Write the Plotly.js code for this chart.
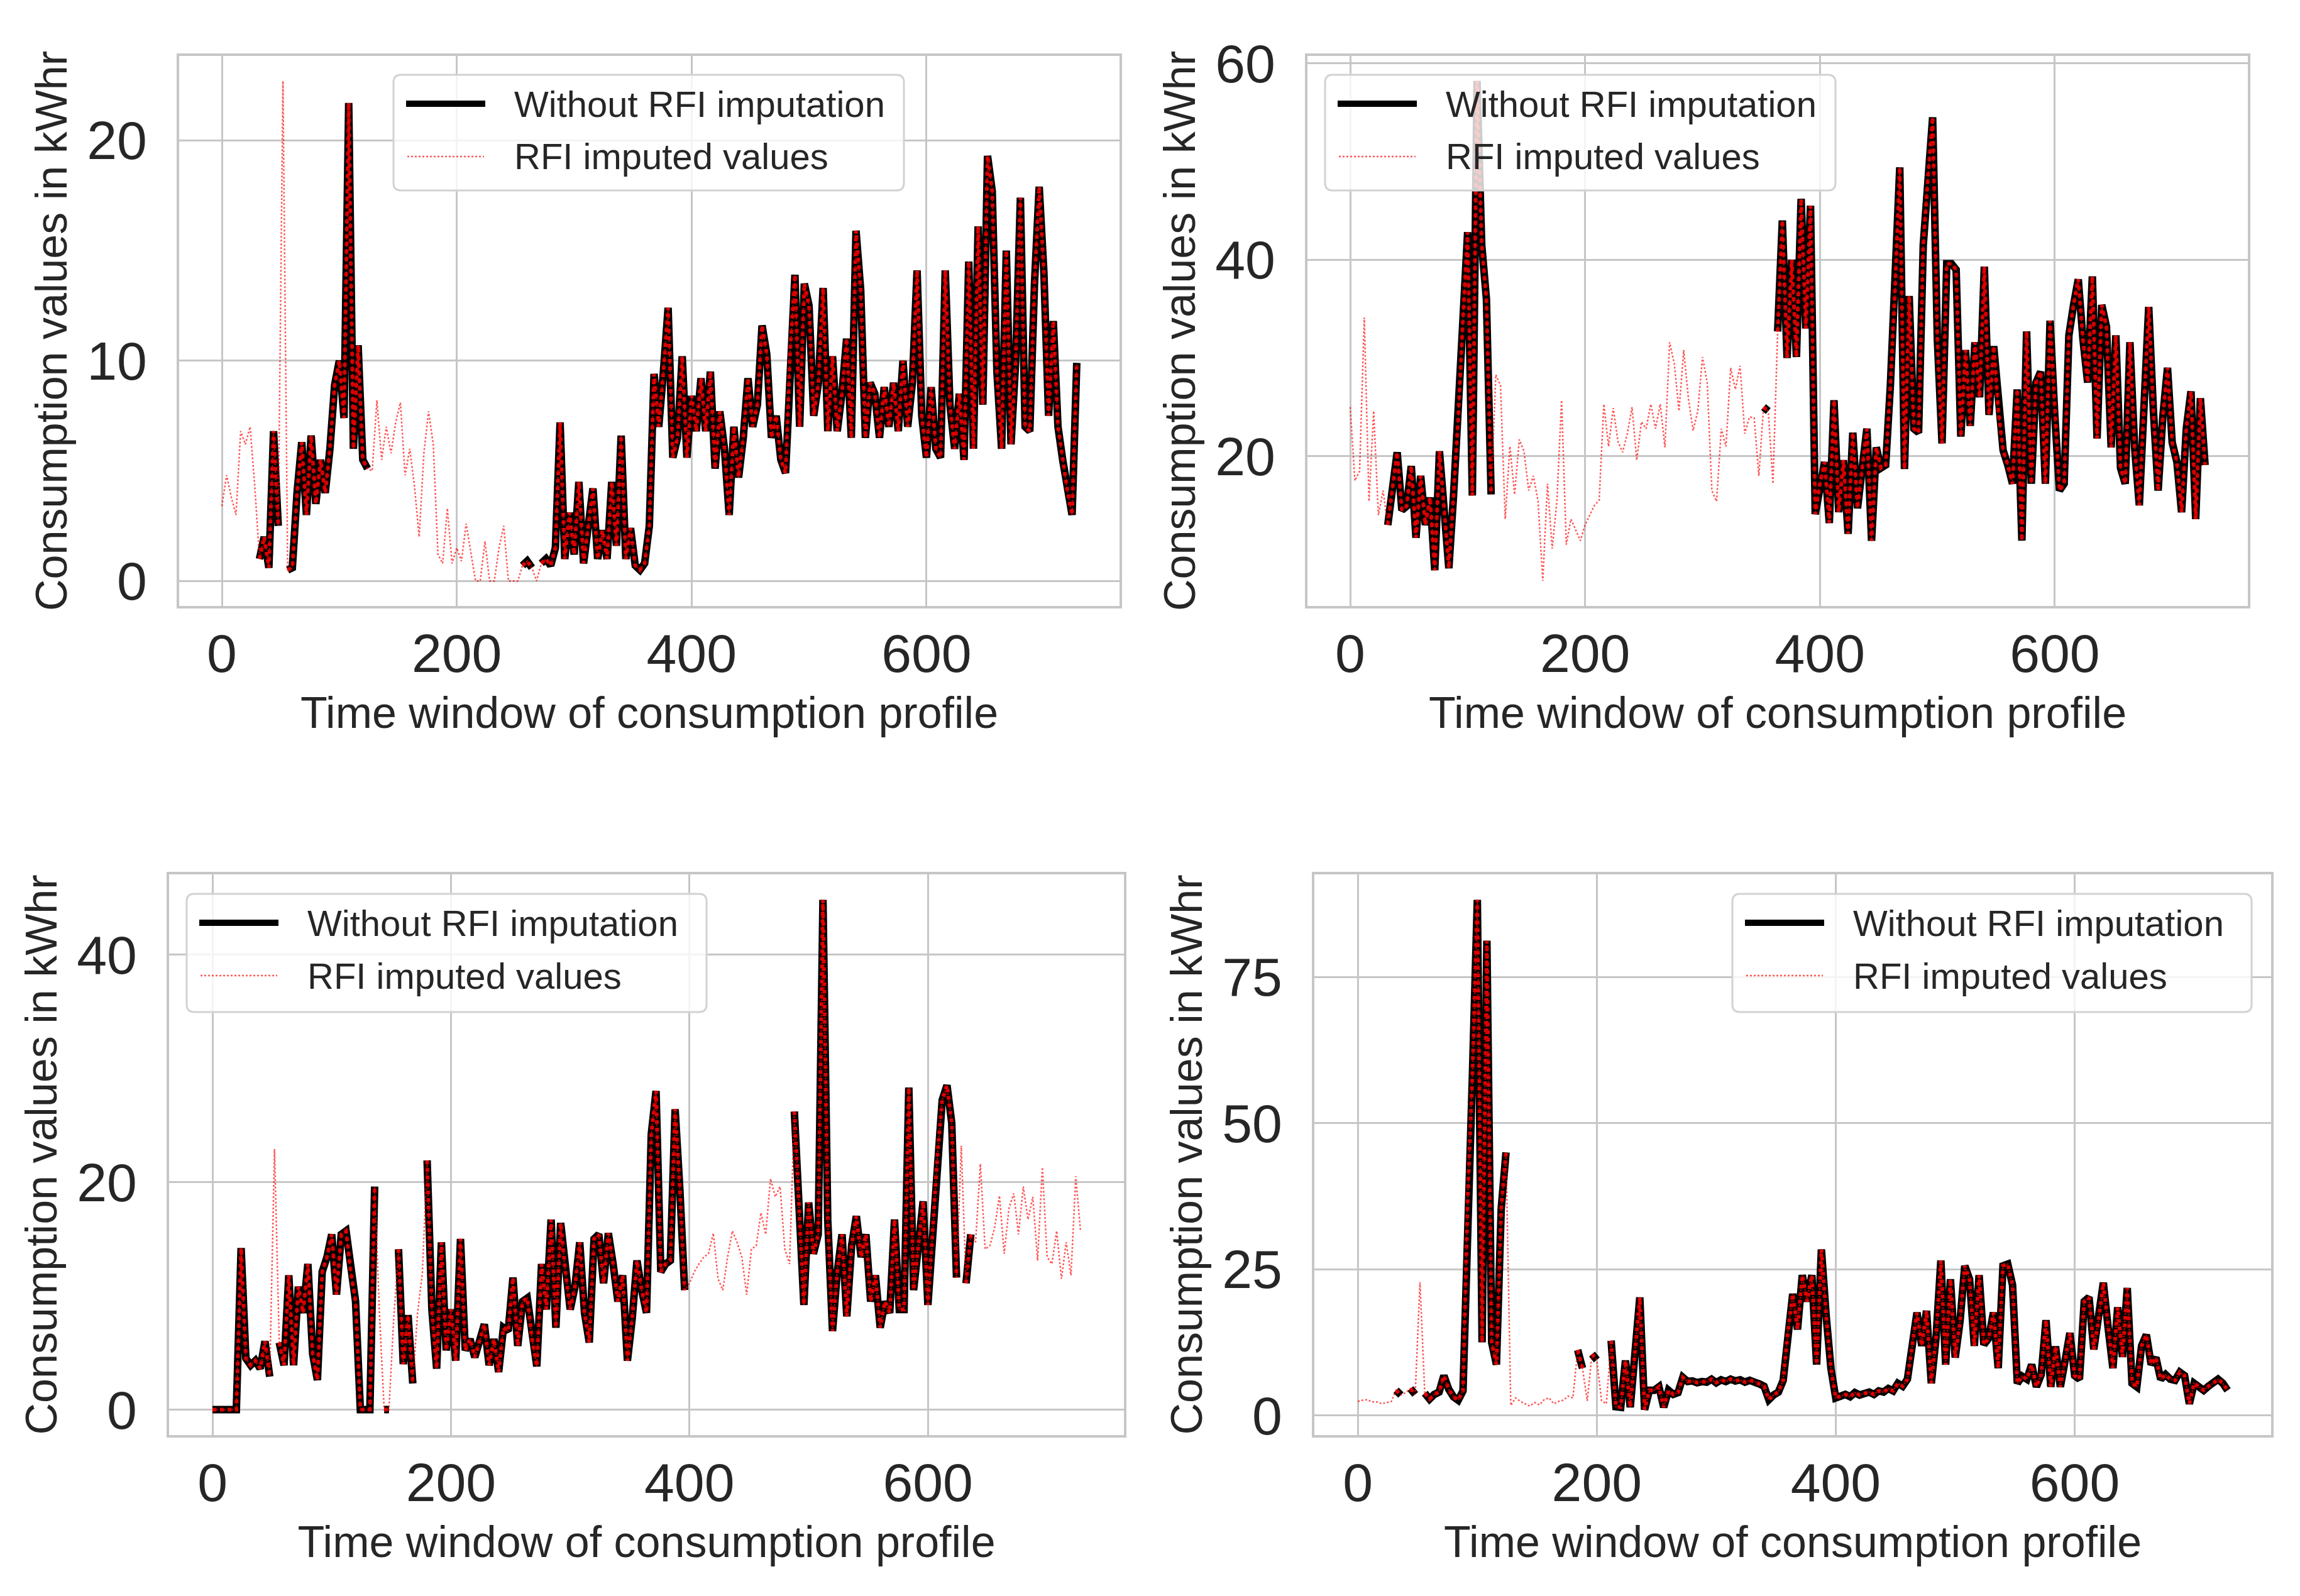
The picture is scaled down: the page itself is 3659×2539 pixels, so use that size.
<!DOCTYPE html>
<html>
<head>
<meta charset="utf-8">
<script src="https://cdn.plot.ly/plotly-3.0.1.min.js"></script>
<style>
  html, body { margin: 0; padding: 0; background: #fff; }
  #chart { width: 3659px; height: 2539px; }
</style>
</head>
<body>
<div id="chart"></div>
<script>
"use strict";

// one reading every 4 steps of the 730-step window
var timeStep = 4;

// panel A (top left)
var consumptionA = [
  3.4, 4.8, 3.8, 3.0, 6.8, 6.2, 7.0, 4.3, 1.0, 2.0,
  0.6, 6.8, 2.5, 22.7, 0.5, 0.6, 4.0, 6.3, 3.0, 6.6,
  3.5, 5.5, 4.0, 6.0, 8.9, 10.0, 7.4, 21.7, 6.0, 10.7,
  5.5, 5.1, 5.0, 8.2, 5.5, 7.0, 5.8, 7.2, 8.1, 4.8,
  6.0, 4.3, 2.0, 5.8, 7.7, 6.2, 1.2, 0.8, 3.3, 0.8,
  1.5, 0.9, 2.6, 1.3, 0.0, 0.0, 1.8, 0.0, 0.0, 1.5,
  2.5, 0.0, 0.0, 0.0, 0.7, 0.9, 0.6, 0.0, 0.8, 1.0,
  0.7, 1.5, 7.2, 1.0, 3.1, 1.2, 4.5, 0.8, 2.5, 4.2,
  1.0, 2.3, 1.0, 4.5, 1.6, 6.6, 1.0, 2.4, 0.7, 0.5,
  0.8, 2.5, 9.4, 7.0, 9.5, 12.4, 5.6, 6.5, 10.2, 5.6,
  8.4, 6.8, 9.2, 6.8, 9.5, 5.1, 7.7, 6.0, 3.0, 7.0,
  4.7, 6.5, 9.2, 7.0, 8.0, 11.6, 10.3, 6.5, 7.5, 5.5,
  4.9, 10.5, 13.9, 7.0, 13.5, 12.5, 7.5, 9.0, 13.3, 6.8,
  10.2, 6.8, 8.5, 11.0, 6.5, 15.9, 13.2, 6.5, 9.0, 8.5,
  6.5, 8.8, 7.0, 9.0, 6.8, 10.0, 7.0, 9.0, 14.1, 7.5,
  5.6, 8.8, 6.0, 5.6, 14.1, 8.0, 6.0, 8.5, 5.5, 14.5,
  6.0, 16.1, 8.0, 19.3, 17.7, 9.5, 6.0, 15.0, 6.2, 10.0,
  17.4, 7.0, 6.8, 13.5, 17.9, 14.0, 7.5, 11.8, 7.0, 5.5,
  4.1, 3.0, 9.9
];
var missingA = [[0, 30], [50, 54], [126, 254], [266, 270]];

// panel B (top right)
var consumptionB = [
  25.0, 17.5, 18.5, 34.1, 15.4, 24.6, 14.0, 16.5, 13.0, 17.0,
  20.4, 14.5, 14.9, 19.0, 11.7, 18.0, 13.0, 15.8, 8.4, 20.5,
  15.0, 8.6, 16.0, 23.9, 33.9, 42.8, 16.0, 58.2, 41.5, 36.0,
  16.1, 28.3, 27.2, 13.6, 21.0, 16.1, 21.7, 20.5, 16.5, 18.0,
  15.4, 7.3, 17.2, 10.6, 15.4, 25.7, 11.0, 13.6, 12.5, 11.4,
  13.0, 14.0, 15.0, 15.5, 25.3, 21.0, 24.9, 21.5, 20.4, 22.3,
  25.0, 19.6, 23.5, 22.8, 25.3, 22.8, 25.3, 20.9, 31.6, 29.4,
  24.6, 30.8, 25.9, 22.6, 24.6, 30.1, 27.5, 16.5, 15.4, 22.8,
  21.0, 29.0, 26.8, 29.2, 22.3, 24.0, 23.9, 18.0, 25.0, 24.6,
  17.2, 32.7, 44.0, 30.0, 40.0, 30.1, 46.2, 33.0, 45.5, 14.1,
  17.2, 19.4, 13.2, 25.7, 14.3, 19.6, 12.1, 22.4, 14.7, 18.8,
  22.8, 11.4, 20.9, 18.8, 19.1, 27.2, 37.1, 49.4, 18.7, 36.3,
  22.8, 22.4, 41.5, 48.4, 54.5, 31.9, 21.3, 39.6, 39.6, 39.0,
  22.0, 30.8, 23.1, 31.6, 26.0, 39.3, 24.2, 31.2, 24.6, 20.6,
  19.1, 17.2, 26.8, 11.4, 32.7, 17.2, 27.5, 28.6, 17.2, 33.8,
  24.2, 16.5, 17.2, 32.3, 35.4, 38.0, 31.9, 27.5, 38.3, 21.8,
  35.4, 33.2, 20.9, 32.3, 18.8, 17.2, 31.6, 20.9, 15.0, 25.9,
  35.2, 24.6, 16.5, 24.0, 29.0, 21.4, 19.4, 14.3, 22.8, 26.6,
  13.6, 25.9, 19.1
];
var missingB = [[0, 30], [122, 350], [358, 362]];

// panel C (bottom left)
var consumptionC = [
  0, 0, 0, 0, 0, 0, 14.2, 4.5, 3.9, 4.3,
  3.6, 6.0, 2.9, 22.9, 5.9, 3.9, 11.8, 3.9, 10.8, 8.5,
  12.8, 4.9, 2.6, 12.1, 13.4, 15.4, 10.1, 15.4, 15.7, 12.1,
  9.5, 0, 0, 0, 19.6, 8.5, 0, 0, 8.0, 14.1,
  4.0, 8.3, 2.3, 8.5, 12.0, 21.9, 8.8, 3.6, 14.7, 5.2,
  8.8, 4.3, 15.0, 5.2, 6.2, 4.6, 6.0, 7.5, 3.9, 6.2,
  3.3, 7.2, 6.9, 11.6, 5.6, 9.5, 9.8, 6.2, 3.8, 12.8,
  8.8, 16.7, 7.2, 16.4, 12.1, 8.8, 10.8, 14.7, 8.5, 5.9,
  15.0, 15.4, 11.1, 15.5, 12.8, 9.5, 11.8, 4.3, 8.0, 13.1,
  10.5, 8.5, 24.2, 28.0, 12.1, 12.8, 13.1, 26.4, 19.3, 10.5,
  11.1, 12.1, 12.8, 13.4, 13.7, 15.5, 11.5, 10.5, 13.4, 15.7,
  14.7, 13.4, 10.1, 14.1, 14.4, 17.3, 15.4, 20.3, 18.7, 19.6,
  14.1, 12.8, 26.2, 17.3, 9.2, 18.2, 13.7, 15.4, 44.8, 16.7,
  6.9, 12.1, 15.4, 8.2, 14.4, 17.0, 13.4, 15.4, 9.5, 11.8,
  7.2, 9.5, 8.5, 16.7, 8.8, 8.8, 28.3, 10.5, 14.4, 18.3,
  9.2, 15.4, 22.3, 27.2, 28.5, 25.2, 11.6, 23.2, 11.1, 15.4,
  14.7, 21.6, 14.1, 14.4, 16.0, 18.8, 13.7, 17.7, 19.0, 15.4,
  19.6, 16.7, 18.7, 13.1, 21.3, 13.4, 12.8, 15.7, 11.5, 14.7,
  11.8, 20.5, 15.7
];
var missingC = [[50, 54], [138, 142], [150, 154], [170, 178], [398, 486], [626, 630], [638, 730]];

// panel D (bottom right)
var consumptionD = [
  2.4, 2.6, 2.7, 2.3, 2.3, 2.0, 2.2, 2.4, 4.3, 3.5,
  3.9, 4.6, 3.6, 22.8, 3.8, 2.8, 3.6, 4.0, 6.8, 4.5,
  3.2, 2.6, 4.2, 37.3, 59.0, 88.2, 12.5, 81.2, 12.5, 8.7,
  35.4, 45.0, 1.7, 3.0, 2.4, 2.0, 1.6, 2.2, 1.8, 2.7,
  3.0, 2.0, 2.4, 2.6, 3.3, 3.0, 11.2, 8.1, 2.5, 10.5,
  9.5, 2.5, 2.0, 12.8, 1.5, 1.4, 9.4, 1.4, 11.3, 20.2,
  1.0, 4.3, 4.3, 4.9, 1.4, 4.3, 3.6, 3.9, 6.5, 5.8,
  5.9, 5.6, 5.8, 5.7, 6.2, 5.6, 6.1, 5.8, 6.2, 5.9,
  6.1, 5.7, 6.0, 5.8, 5.4, 5.0, 2.7, 3.5, 4.0, 6.0,
  14.4, 20.8, 14.7, 24.0, 19.5, 24.0, 8.7, 28.4, 17.0, 8.0,
  3.0, 3.3, 3.6, 3.2, 3.9, 3.5, 3.8, 4.0, 3.6, 4.2,
  4.0, 4.6, 4.2, 5.5, 5.0, 6.2, 11.9, 17.6, 11.9, 17.9,
  5.5, 13.4, 26.5, 8.7, 23.3, 9.9, 16.0, 25.6, 23.3, 11.9,
  24.0, 12.1, 13.2, 17.6, 8.1, 25.6, 25.9, 22.3, 5.5, 6.7,
  6.2, 8.7, 4.9, 7.0, 16.3, 4.9, 11.8, 4.9, 9.4, 14.1,
  6.8, 6.2, 19.5, 20.2, 11.3, 16.3, 22.7, 15.0, 8.1, 18.5,
  10.0, 21.8, 5.5, 4.9, 11.9, 13.8, 8.7, 9.9, 6.2, 7.0,
  6.2, 6.0, 7.4, 6.8, 2.0, 5.5, 4.9, 4.3, 5.0, 5.5,
  6.2, 5.5, 4.3
];
var missingD = [[0, 30], [38, 42], [50, 54], [126, 182], [190, 194], [202, 210]];

var seriesNames = ["Without RFI imputation", "RFI imputed values"];
var xTitle = "Time window of consumption profile";
var yTitle = "Consumption values in kWhr";

var FIG_W = 3659, FIG_H = 2539;
var FONT = "Liberation Sans, Arial, sans-serif";
var TEXT = "#262626";
var GRID = "#c6c6c6";

// frames and legend boxes in page pixels
var panels = [
    {values: consumptionA, gaps: missingA, dtick: 10,
     frame: {l: 285, r: 1781, t: 89, b: 964}, legend: {l: 626, r: 1438, t: 119, b: 303}},
    {values: consumptionB, gaps: missingB, dtick: 20,
     frame: {l: 2080, r: 3576, t: 89, b: 964}, legend: {l: 2108, r: 2920, t: 119, b: 303}},
    {values: consumptionC, gaps: missingC, dtick: 20,
     frame: {l: 269, r: 1788, t: 1391, b: 2283}, legend: {l: 297, r: 1124, t: 1422, b: 1610}},
    {values: consumptionD, gaps: missingD, dtick: 25,
     frame: {l: 2091, r: 3613, t: 1391, b: 2283}, legend: {l: 2756, r: 3582, t: 1422, b: 1610}}
];

function px(x) { return x / FIG_W; }
function py(y) { return 1 - y / FIG_H; }

function timeOf(values) {
    return values.map(function(v, i) { return i * timeStep; });
}

function withoutImputation(values, gaps) {
    return values.map(function(v, i) {
        var t = i * timeStep;
        var missing = gaps.some(function(g) { return t >= g[0] && t <= g[1]; });
        return missing ? null : v;
    });
}

// matplotlib-like 5% padding around the data
function paddedRange(arr) {
    var lo = Math.min.apply(null, arr), hi = Math.max.apply(null, arr);
    var pad = (hi - lo) * 0.05;
    return [lo - pad, hi + pad];
}

function roundedBox(b, rad) {
    var rx = rad / FIG_W, ry = rad / FIG_H;
    var l = px(b.l), r = px(b.r), t = py(b.t), bt = py(b.b);
    return "M" + (l + rx) + "," + t + " L" + (r - rx) + "," + t +
        " Q" + r + "," + t + " " + r + "," + (t - ry) +
        " L" + r + "," + (bt + ry) + " Q" + r + "," + bt + " " + (r - rx) + "," + bt +
        " L" + (l + rx) + "," + bt + " Q" + l + "," + bt + " " + l + "," + (bt + ry) +
        " L" + l + "," + (t - ry) + " Q" + l + "," + t + " " + (l + rx) + "," + t + " Z";
}

var data = [];
var layout = {
    width: FIG_W,
    height: FIG_H,
    paper_bgcolor: "white",
    plot_bgcolor: "white",
    margin: {l: 0, r: 0, t: 0, b: 0},
    showlegend: false,
    font: {family: FONT, color: TEXT},
    shapes: [],
    annotations: []
};

panels.forEach(function(p, k) {
    var n = k === 0 ? "" : String(k + 1);
    var time = timeOf(p.values);
    var observed = withoutImputation(p.values, p.gaps);

    data.push({
        x: time, y: observed, xaxis: "x" + n, yaxis: "y" + n,
        type: "scatter", mode: "lines", name: seriesNames[0],
        line: {color: "black", width: 12}, connectgaps: false, hoverinfo: "skip"
    });
    data.push({
        x: time, y: observed, xaxis: "x" + n, yaxis: "y" + n,
        type: "scatter", mode: "lines", name: seriesNames[0],
        line: {color: "#d40000", width: 6, dash: "dot"}, connectgaps: false, hoverinfo: "skip"
    });
    data.push({
        x: time, y: p.values, xaxis: "x" + n, yaxis: "y" + n,
        type: "scatter", mode: "lines", name: seriesNames[1],
        line: {color: "rgba(255,0,0,0.65)", width: 2.5, dash: "dot"}, hoverinfo: "skip"
    });

    var f = p.frame;
    layout["xaxis" + n] = {
        domain: [px(f.l), px(f.r)],
        anchor: "y" + n,
        range: paddedRange(time),
        tick0: 0, dtick: 200,
        showgrid: true, gridcolor: GRID, gridwidth: 3,
        zeroline: false,
        showline: true, mirror: true, linecolor: GRID, linewidth: 4,
        ticks: "", ticklabelstandoff: -2,
        tickfont: {family: FONT, size: 86, color: TEXT},
        title: {text: xTitle, font: {family: FONT, size: 70, color: TEXT}, standoff: 24}
    };
    layout["yaxis" + n] = {
        domain: [py(f.b), py(f.t)],
        anchor: "x" + n,
        range: paddedRange(p.values),
        tick0: 0, dtick: p.dtick,
        showgrid: true, gridcolor: GRID, gridwidth: 3,
        zeroline: false,
        showline: true, mirror: true, linecolor: GRID, linewidth: 4,
        ticks: "", ticklabelstandoff: 30,
        tickfont: {family: FONT, size: 86, color: TEXT},
        title: {text: yTitle, font: {family: FONT, size: 70, color: TEXT}, standoff: 10}
    };

    // legend drawn by hand so the line samples keep the long matplotlib look
    var b = p.legend;
    layout.shapes.push({
        type: "path", xref: "paper", yref: "paper", path: roundedBox(b, 12),
        fillcolor: "rgba(255,255,255,0.8)", line: {color: "#d2d2d2", width: 3}, layer: "above"
    });
    layout.shapes.push({
        type: "line", xref: "paper", yref: "paper",
        x0: px(b.l + 20), x1: px(b.l + 146), y0: py(b.t + 46), y1: py(b.t + 46),
        line: {color: "black", width: 10}, layer: "above"
    });
    layout.shapes.push({
        type: "line", xref: "paper", yref: "paper",
        x0: px(b.l + 22), x1: px(b.l + 144), y0: py(b.t + 130), y1: py(b.t + 130),
        line: {color: "rgba(255,0,0,0.65)", width: 2.5, dash: "dot"}, layer: "above"
    });
    seriesNames.forEach(function(name, j) {
        layout.annotations.push({
            xref: "paper", yref: "paper",
            x: px(b.l + 190), y: py(b.t + (j === 0 ? 46 : 130)),
            xanchor: "left", yanchor: "middle", showarrow: false,
            text: name, font: {family: FONT, size: 58, color: TEXT}
        });
    });
});

Plotly.newPlot("chart", data, layout, {displayModeBar: false, staticPlot: true});
</script>
</body>
</html>
